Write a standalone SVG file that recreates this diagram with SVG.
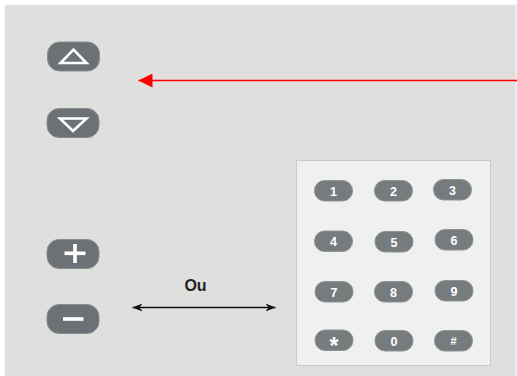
<svg xmlns="http://www.w3.org/2000/svg" width="517" height="376" viewBox="0 0 517 376">
  <style>
    .btn { fill: #6c7175; stroke: #8a8e91; stroke-width: 1; }
    .key { fill: #767b7e; stroke: #8f9396; stroke-width: 1; }
    .glyph { fill: none; stroke: #ffffff; stroke-width: 2.6; stroke-linejoin: miter; }
    .bar { fill: #ffffff; }
    .kt { fill: #ffffff; font-family: "Liberation Sans", Arial, sans-serif; font-weight: bold; font-size: 12.5px; text-anchor: middle; }
    .label { fill: #222222; font-family: "Liberation Sans", Arial, sans-serif; font-weight: bold; font-size: 16px; text-anchor: middle; }
  </style>
  <defs>
    <marker id="redHead" viewBox="0 0 14 14" refX="14" refY="7" markerWidth="14" markerHeight="14" markerUnits="userSpaceOnUse" orient="auto">
      <path d="M0,0 L14,7 L0,14 Z" fill="#ff0000"/>
    </marker>
    <marker id="blkStart" viewBox="0 0 10 8" refX="0" refY="4" markerWidth="10" markerHeight="8" markerUnits="userSpaceOnUse" orient="auto">
      <path d="M10,0 L0,4 L10,8 L7,4 Z" fill="#111111"/>
    </marker>
    <marker id="blkEnd" viewBox="0 0 10 8" refX="10" refY="4" markerWidth="10" markerHeight="8" markerUnits="userSpaceOnUse" orient="auto">
      <path d="M0,0 L10,4 L0,8 L3,4 Z" fill="#111111"/>
    </marker>
  </defs>

  <!-- panel background -->
  <rect x="5" y="5" width="511" height="371" fill="#dfdfdd" stroke="#e8e8e6" stroke-width="1"/>

  <!-- side buttons -->
  <g id="btn-up">
    <rect class="btn" x="47.5" y="42" width="52" height="29" rx="12"/>
    <path class="glyph" d="M60.5,63 L86.5,63 L73.5,49.5 Z"/>
  </g>
  <g id="btn-down">
    <rect class="btn" x="47" y="108.5" width="52" height="29" rx="12"/>
    <path class="glyph" d="M60,118.5 L86.5,118.5 L73,131 Z"/>
  </g>
  <g id="btn-plus">
    <rect class="btn" x="47" y="239.5" width="52" height="29" rx="12"/>
    <rect class="bar" x="64.5" y="251.5" width="21" height="3.6"/>
    <rect class="bar" x="73.2" y="244" width="3.6" height="19"/>
  </g>
  <g id="btn-minus">
    <rect class="btn" x="47" y="304.5" width="52" height="29" rx="12"/>
    <rect class="bar" x="63" y="317.2" width="20.5" height="3.6"/>
  </g>

  <!-- keypad -->
  <g id="keypad">
    <rect x="296.5" y="160.5" width="194" height="205" fill="#f0f0ef" stroke="#c9c9c7" stroke-width="1"/>
    <g id="key-1"><rect class="key" x="314.5" y="180.5" width="38" height="20.5" rx="10"/><text class="kt" x="333.5" y="195.5">1</text></g>
    <g id="key-2"><rect class="key" x="374.5" y="180.5" width="38" height="20.5" rx="10"/><text class="kt" x="393.5" y="195.5">2</text></g>
    <g id="key-3"><rect class="key" x="433.5" y="179.5" width="38" height="20.5" rx="10"/><text class="kt" x="452.5" y="194.5">3</text></g>
    <g id="key-4"><rect class="key" x="314.5" y="231" width="38" height="20.5" rx="10"/><text class="kt" x="333.5" y="246">4</text></g>
    <g id="key-5"><rect class="key" x="375" y="231.5" width="38" height="20.5" rx="10"/><text class="kt" x="394" y="246.5">5</text></g>
    <g id="key-6"><rect class="key" x="435" y="229.5" width="38" height="20.5" rx="10"/><text class="kt" x="454" y="244.5">6</text></g>
    <g id="key-7"><rect class="key" x="315" y="281.5" width="38" height="20.5" rx="10"/><text class="kt" x="334" y="296.5">7</text></g>
    <g id="key-8"><rect class="key" x="374.5" y="281.5" width="38" height="20.5" rx="10"/><text class="kt" x="393.5" y="296.5">8</text></g>
    <g id="key-9"><rect class="key" x="435" y="280.5" width="38" height="20.5" rx="10"/><text class="kt" x="454" y="295.5">9</text></g>
    <g id="key-star"><rect class="key" x="315" y="330" width="38" height="20.5" rx="10"/><text class="kt" x="334" y="353.5" style="font-size:23px">*</text></g>
    <g id="key-0"><rect class="key" x="375" y="330.5" width="38" height="20.5" rx="10"/><text class="kt" x="394" y="345.5">0</text></g>
    <g id="key-hash"><rect class="key" x="434.5" y="330.5" width="38" height="20.5" rx="10"/><text class="kt" x="453.5" y="345" style="font-size:11px">#</text></g>
  </g>

  <!-- connectors -->
  <g id="connectors">
    <line x1="517" y1="80.5" x2="138.5" y2="80.5" stroke="#ff0000" stroke-width="1.6" marker-end="url(#redHead)"/>
    <line x1="132.5" y1="307.5" x2="275.5" y2="307.5" stroke="#111111" stroke-width="1.6" marker-start="url(#blkStart)" marker-end="url(#blkEnd)"/>
  </g>

  <g id="label-ou">
    <text class="label" x="195.5" y="290.5">Ou</text>
  </g>
</svg>
